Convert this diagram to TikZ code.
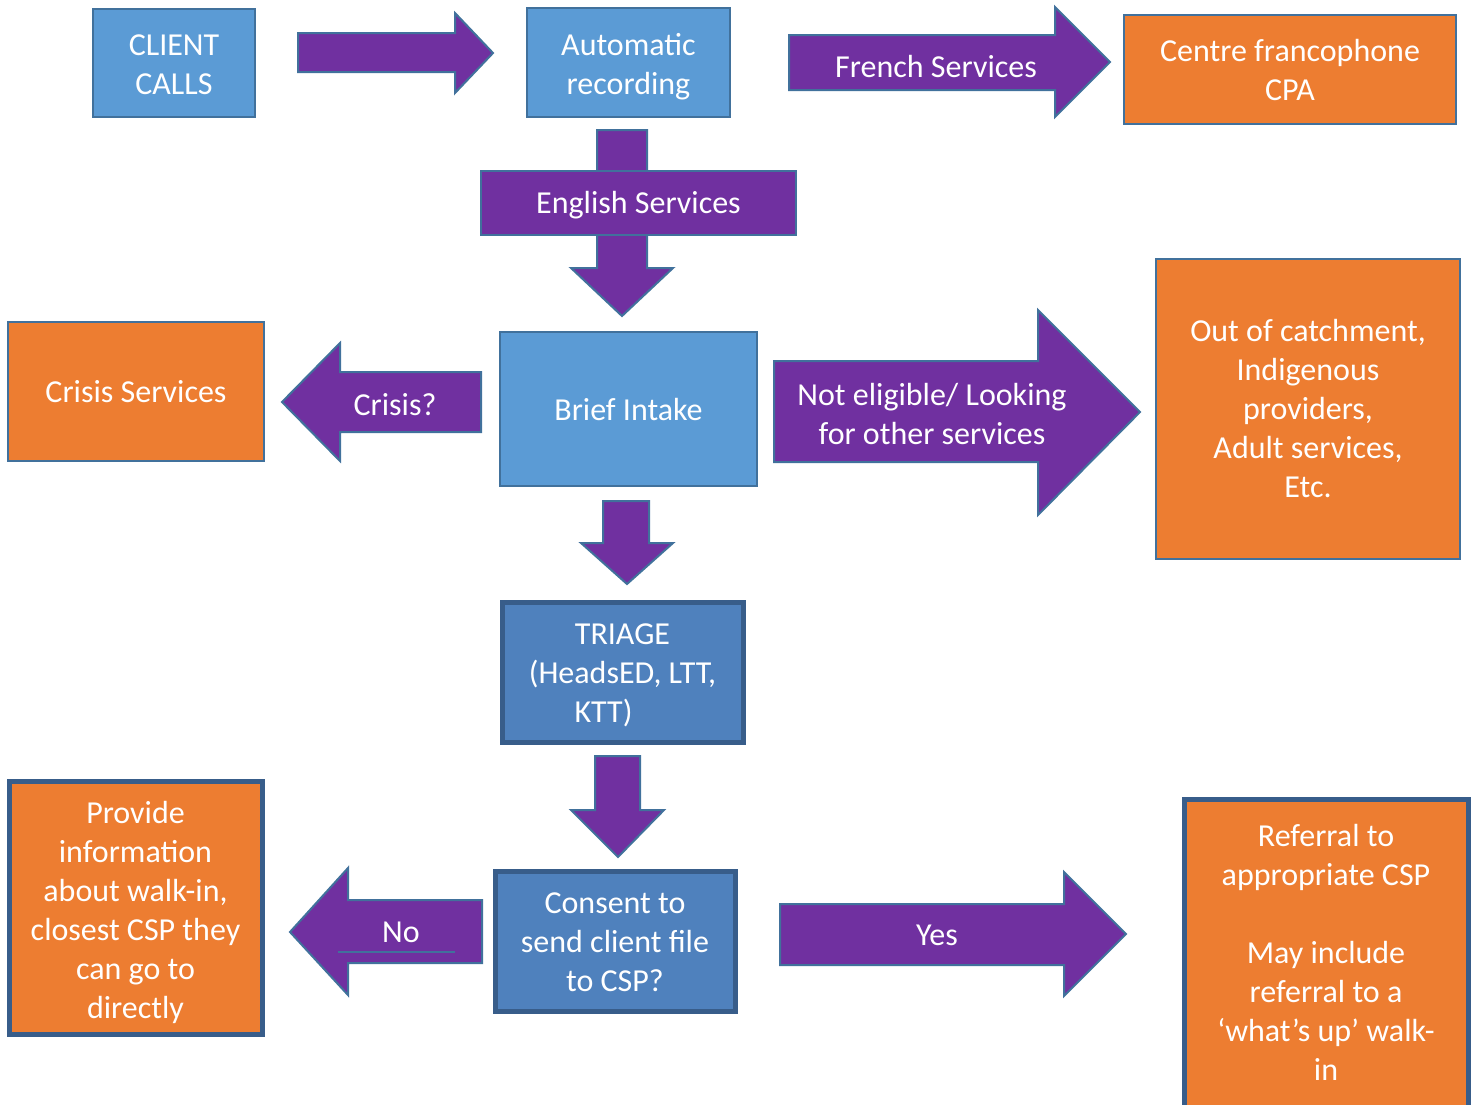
\documentclass[tikz,border=0pt]{standalone}
\usepackage{fontspec}
\setmainfont{Carlito}
\definecolor{lblue}{HTML}{5B9BD5}
\definecolor{dblue}{HTML}{4F81BD}
\definecolor{edgeb}{HTML}{41719C}
\definecolor{edged}{HTML}{385D8A}
\definecolor{orng}{HTML}{ED7D31}
\definecolor{purp}{HTML}{7030A0}
\begin{document}
\begin{tikzpicture}[x=1pt,y=-1pt,
  txt/.style={font=\fontsize{32}{39}\selectfont, text=white, align=center, inner sep=0pt},
  thinbox/.style={txt, rectangle, draw=edgeb, line width=2pt},
  thickbox/.style={txt, rectangle, draw=edged, line width=5pt},
  arr/.style={fill=purp, draw=edgeb, line width=2pt, line join=miter}
]
\useasboundingbox (0,0) rectangle (1475,1104);
\clip (0,0) rectangle (1475,1104);

% boxes
\node[thinbox, fill=lblue, minimum width=162pt, minimum height=108pt] (client) at (174,63) {};
\node[txt] (clienttxt) at (174,65) {CLIENT\\CALLS};
\node[thinbox, fill=lblue, minimum width=203pt, minimum height=109pt] (auto) at (628.5,62.5) {};
\node[txt] (autotxt) at (628.5,66.5) {Automatic\\recording};
\node[thinbox, fill=orng, minimum width=332pt, minimum height=109pt] (cpa) at (1290,69.5) {Centre francophone\\CPA};
\node[thinbox, fill=orng, minimum width=256pt, minimum height=139pt] (crisis) at (136,391.5) {Crisis Services};
\node[thinbox, fill=lblue, minimum width=257pt, minimum height=154pt] (intake) at (628.5,409) {Brief Intake};
\node[thinbox, fill=orng, minimum width=304pt, minimum height=300pt] (other) at (1308,408.5) {Out of catchment,\\Indigenous\\providers,\\Adult services,\\Etc.};
\node[thickbox, fill=dblue, minimum width=241pt, minimum height=140pt] (triage) at (622.5,672) {};
\node[txt] (triagetxt) at (622.5,675) {TRIAGE\\(HeadsED, LTT,\\KTT)\rule{38pt}{0pt}};
\node[thickbox, fill=dblue, minimum width=240pt, minimum height=140pt] (consent) at (615,941) {};
\node[txt] (consenttxt) at (615,942) {Consent to\\send client file\\to CSP?};
\node[thickbox, fill=orng, minimum width=253pt, minimum height=253pt] (info) at (135.5,907.5) {};
\node[txt] (infotxt) at (135.5,912.5) {Provide\\information\\about walk-in,\\closest CSP they\\can go to\\directly};
\node[thickbox, fill=orng, minimum width=284pt, minimum height=326pt] (referral) at (1326,962) {};
\node[txt] (referraltxt) at (1326,952) {Referral to\\appropriate CSP\\[39pt]May include\\referral to a\\‘what’s up’ walk-\\in};

% block arrows
\draw[arr] (298,33) -- (455,33) -- (455,13) -- (493,53) -- (455,93) -- (455,72) -- (298,72) -- cycle;
\draw[arr] (789,35) -- (1055,35) -- (1055,7) -- (1110,62) -- (1055,117) -- (1055,90) -- (789,90) -- cycle;
\node[txt] (french) at (936,67) {French Services};

\draw[arr] (597,130) -- (647,130) -- (647,268) -- (673,268) -- (622,316) -- (571,268) -- (597,268) -- cycle;
\node[thinbox, fill=purp, minimum width=315pt, minimum height=64pt] (english) at (638.5,203) {};
\node[txt] (englishtxt) at (638.5,205) {English Services};

\draw[arr] (481,372) -- (340,372) -- (340,343) -- (282,402) -- (340,461) -- (340,432) -- (481,432) -- cycle;
\node[txt] (crisisq) at (395,405) {Crisis?};

\draw[arr] (774,361) -- (1038,361) -- (1038,310) -- (1140,412) -- (1038,515) -- (1038,462) -- (774,462) -- cycle;
\node[txt] (noteligible) at (932,414) {Not eligible/ Looking\\for other services};

\draw[arr] (603,501) -- (649,501) -- (649,543) -- (673,543) -- (627,584) -- (581,543) -- (603,543) -- cycle;
\draw[arr] (595,756) -- (640,756) -- (640,810) -- (664,810) -- (618,857) -- (571,810) -- (595,810) -- cycle;

\draw[arr] (482,900) -- (348,900) -- (348,868) -- (290,932) -- (348,995) -- (348,963) -- (482,963) -- cycle;
\draw[edgeb, line width=1.5pt] (338,952) -- (455,952);
\node[txt] (no) at (401,932) {No};

\draw[arr] (780,904) -- (1064,904) -- (1064,872) -- (1126,934) -- (1064,996) -- (1064,965) -- (780,965) -- cycle;
\node[txt] (yes) at (937,935) {Yes};
\end{tikzpicture}
\end{document}
